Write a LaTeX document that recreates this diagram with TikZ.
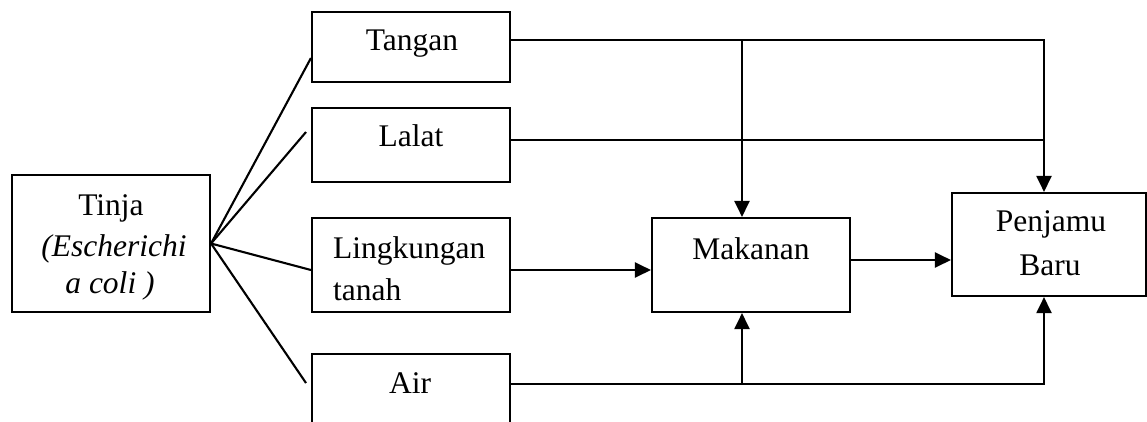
\documentclass[tikz,border=0pt]{standalone}
\usepackage{fontspec}
\setmainfont{Liberation Serif}
\usetikzlibrary{arrows.meta}
\begin{document}
\begin{tikzpicture}[x=1pt,y=-1pt,
  box/.style={draw,line width=2.1pt,rectangle,inner sep=0pt},
  lbl/.style={anchor=base,inner sep=0pt,font=\fontsize{31.5}{38}\selectfont},
  link/.style={line width=2.1pt},
  arr/.style={line width=2.1pt,-{Triangle[length=16pt,width=15pt]}}]
\useasboundingbox (0,0) rectangle (1147,421);
% boxes
\node[box,minimum width=198pt,minimum height=137pt] (tinja) at (111,243.5) {};
\node[box,minimum width=198pt,minimum height=70pt] (tangan) at (411,47) {};
\node[box,minimum width=198pt,minimum height=74pt] (lalat) at (411,145) {};
\node[box,minimum width=198pt,minimum height=94pt] (ling) at (411,265) {};
\node[box,minimum width=198pt,minimum height=86pt] (air) at (411,397) {};
\node[box,minimum width=198pt,minimum height=94pt] (makanan) at (751,265) {};
\node[box,minimum width=194pt,minimum height=103pt] (penjamu) at (1049,244.5) {};
% texts
\node[lbl] (tTinja) at (111,215) {Tinja};
\node[lbl] (tEsch) at (114,256.7) {\itshape (Escherichi};
\node[lbl] (tColi) at (110,293) {\itshape a coli )};
\node[lbl] (tTangan) at (412,50) {Tangan};
\node[lbl] (tLalat) at (411,146.7) {Lalat};
\node[lbl,anchor=base west] (tLing) at (333,258) {Lingkungan};
\node[lbl,anchor=base west] (tTanah) at (333,300) {tanah};
\node[lbl] (tAir) at (410,393) {Air};
\node[lbl] (tMak) at (751,259) {Makanan};
\node[lbl] (tPen) at (1051,231.7) {Penjamu};
\node[lbl] (tBaru) at (1050,275) {Baru};
% helper coordinates
\coordinate (eLalat) at (306,132);
\coordinate (eAir) at (306,383);
\coordinate (jTop) at (742,40);
\coordinate (jBot) at (742,384);
\coordinate (pTop) at ([xshift=-5pt]penjamu.north);
\coordinate (pBot) at ([xshift=-5pt]penjamu.south);
\coordinate (tanR) at ([yshift=7pt]tangan.east);
\coordinate (lalR) at ([yshift=5pt]lalat.east);
\coordinate (makR) at ([yshift=5pt]makanan.east);
\coordinate (airR) at ([yshift=13pt]air.east);
% connectors from Tinja
\draw[link] (tinja.east) -- ([yshift=-11pt]tangan.west);
\draw[link] (tinja.east) -- (eLalat);
\draw[link] (tinja.east) -- ([yshift=-5pt]ling.west);
\draw[link] (tinja.east) -- (eAir);
% arrows
\draw[arr] (tanR) -| (pTop);
\draw[arr] (jTop) -- (jTop |- makanan.north);
\draw[link] (lalR) -- (lalR -| pTop);
\draw[arr] ([yshift=-5pt]ling.east) -- ([yshift=-5pt]makanan.west);
\draw[arr] (makR) -- (makR -| penjamu.west);
\draw[arr] (airR) -| (pBot);
\draw[arr] (jBot) -- (jBot |- makanan.south);
\end{tikzpicture}
\end{document}
